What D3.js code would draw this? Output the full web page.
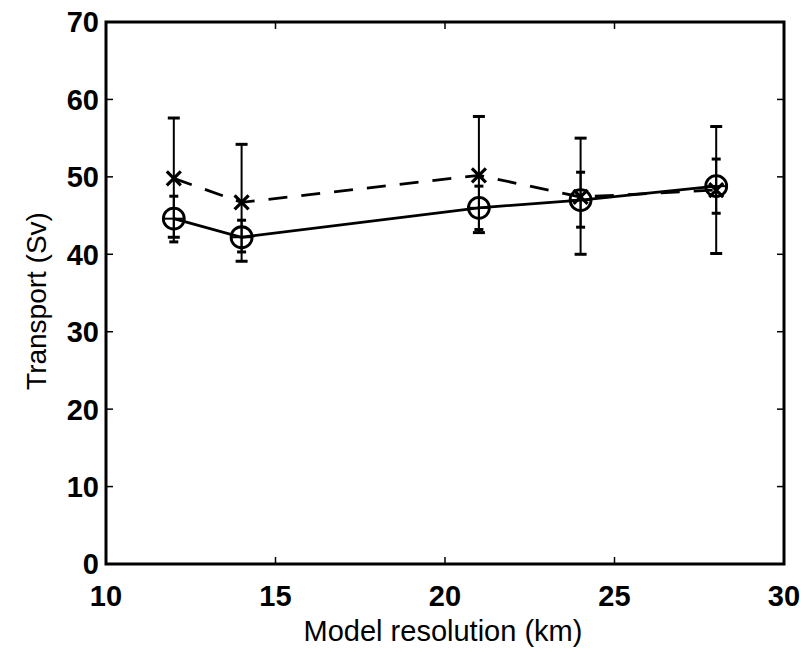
<!DOCTYPE html>
<html lang="en">

<head>
    <meta charset="utf-8">
    <title>Transport vs model resolution</title>
    <script type="text/javascript" src="https://cdnjs.cloudflare.com/ajax/libs/d3/7.8.5/d3.min.js"></script>
    <style>
        body { margin: 0; background: #fff; }
        text { font-family: "Liberation Sans", Arial, sans-serif; fill: #000; }
    </style>
</head>

<body>

    <script type="text/javascript">
    // model resolution (km)
    var resolution = [12, 14, 21, 24, 28];

    // dashed series (x markers)
    var crossValues = [49.8, 46.7, 50.2, 47.4, 48.3];
    var crossLow = [42.2, 39.1, 42.8, 40.0, 40.1];
    var crossHigh = [57.6, 54.2, 57.8, 55.0, 56.5];

    // solid series (circle markers)
    var circleValues = [44.6, 42.2, 46.0, 47.0, 48.8];
    var circleLow = [41.6, 40.3, 43.2, 43.5, 45.3];
    var circleHigh = [47.5, 44.4, 48.8, 50.6, 52.3];

    var xTicks = [10, 15, 20, 25, 30];
    var yTicks = [0, 10, 20, 30, 40, 50, 60, 70];

    var width = 804, height = 652;
    var plotLeft = 106, plotRight = 784, plotTop = 22, plotBottom = 564;

    var svg = d3.select("body")
        .append("svg")
        .attr("width", width)
        .attr("height", height);

    var x = d3.scaleLinear().domain([10, 30]).range([plotLeft, plotRight]);
    var y = d3.scaleLinear().domain([0, 70]).range([plotBottom, plotTop]);

    // ticks on all four sides, pointing inwards
    var tickLen = 7;
    var axes = svg.append("g").attr("stroke", "#000").attr("stroke-width", 1.5);
    xTicks.forEach(function(t) {
        axes.append("line").attr("x1", x(t)).attr("x2", x(t)).attr("y1", plotBottom).attr("y2", plotBottom - tickLen);
        axes.append("line").attr("x1", x(t)).attr("x2", x(t)).attr("y1", plotTop).attr("y2", plotTop + tickLen);
    });
    yTicks.forEach(function(t) {
        axes.append("line").attr("x1", plotLeft).attr("x2", plotLeft + tickLen).attr("y1", y(t)).attr("y2", y(t));
        axes.append("line").attr("x1", plotRight).attr("x2", plotRight - tickLen).attr("y1", y(t)).attr("y2", y(t));
    });

    svg.append("rect")
        .attr("x", plotLeft)
        .attr("y", plotTop)
        .attr("width", plotRight - plotLeft)
        .attr("height", plotBottom - plotTop)
        .attr("fill", "none")
        .attr("stroke", "#000")
        .attr("stroke-width", 3);

    // tick labels
    svg.selectAll(".xlab").data(xTicks)
        .enter()
        .append("text")
        .attr("class", "xlab")
        .attr("x", function(d) { return x(d); })
        .attr("y", 606)
        .attr("text-anchor", "middle")
        .style("font-size", "29px")
        .style("font-weight", "bold")
        .text(function(d) { return d; });

    svg.selectAll(".ylab").data(yTicks)
        .enter()
        .append("text")
        .attr("class", "ylab")
        .attr("x", 99)
        .attr("y", function(d) { return y(d); })
        .attr("dy", "0.36em")
        .attr("text-anchor", "end")
        .style("font-size", "29px")
        .style("font-weight", "bold")
        .text(function(d) { return d; });

    svg.append("text")
        .attr("x", 443)
        .attr("y", 641)
        .attr("text-anchor", "middle")
        .style("font-size", "29px")
        .text("Model resolution (km)");

    svg.append("text")
        .attr("transform", "translate(46," + ((plotTop + plotBottom) / 2 + 8) + ") rotate(-90)")
        .attr("text-anchor", "middle")
        .style("font-size", "28px")
        .text("Transport (Sv)");

    var crossData = resolution.map(function(r, i) {
        return { x: r, v: crossValues[i], lo: crossLow[i], hi: crossHigh[i] };
    });
    var circleData = resolution.map(function(r, i) {
        return { x: r, v: circleValues[i], lo: circleLow[i], hi: circleHigh[i] };
    });

    var line = d3.line()
        .x(function(d) { return x(d.x); })
        .y(function(d) { return y(d.v); });

    function errorBars(data, capW) {
        var g = svg.append("g").attr("stroke", "#000");
        data.forEach(function(d) {
            g.append("line")
                .attr("x1", x(d.x)).attr("x2", x(d.x))
                .attr("y1", y(d.lo)).attr("y2", y(d.hi))
                .attr("stroke-width", 2);
            [d.lo, d.hi].forEach(function(e) {
                g.append("line")
                    .attr("x1", x(d.x) - capW / 2).attr("x2", x(d.x) + capW / 2)
                    .attr("y1", y(e)).attr("y2", y(e))
                    .attr("stroke-width", 3);
            });
        });
    }

    errorBars(crossData, 12);
    errorBars(circleData, 9);

    svg.append("path")
        .datum(crossData)
        .attr("d", line)
        .attr("fill", "none")
        .attr("stroke", "#000")
        .attr("stroke-width", 2.8)
        .attr("stroke-dasharray", "19,14");

    svg.append("path")
        .datum(circleData)
        .attr("d", line)
        .attr("fill", "none")
        .attr("stroke", "#000")
        .attr("stroke-width", 2.8);

    // circle markers with a horizontal bar through them
    var circles = svg.selectAll(".circ").data(circleData)
        .enter()
        .append("g")
        .attr("class", "circ")
        .attr("transform", function(d) { return "translate(" + x(d.x) + "," + y(d.v) + ")"; });
    circles.append("circle")
        .attr("r", 10.5)
        .attr("fill", "none")
        .attr("stroke", "#000")
        .attr("stroke-width", 2.8);
    circles.append("line")
        .attr("x1", -10).attr("x2", 10)
        .attr("stroke", "#000")
        .attr("stroke-width", 2);

    // x markers
    var s = 7;
    svg.selectAll(".xmark").data(crossData)
        .enter()
        .append("path")
        .attr("class", "xmark")
        .attr("d", function(d) {
            var cx = x(d.x), cy = y(d.v);
            return "M" + (cx - s) + "," + (cy - s) + "L" + (cx + s) + "," + (cy + s) +
                "M" + (cx - s) + "," + (cy + s) + "L" + (cx + s) + "," + (cy - s);
        })
        .attr("stroke", "#000")
        .attr("stroke-width", 3.2);
    </script>

</body>

</html>
